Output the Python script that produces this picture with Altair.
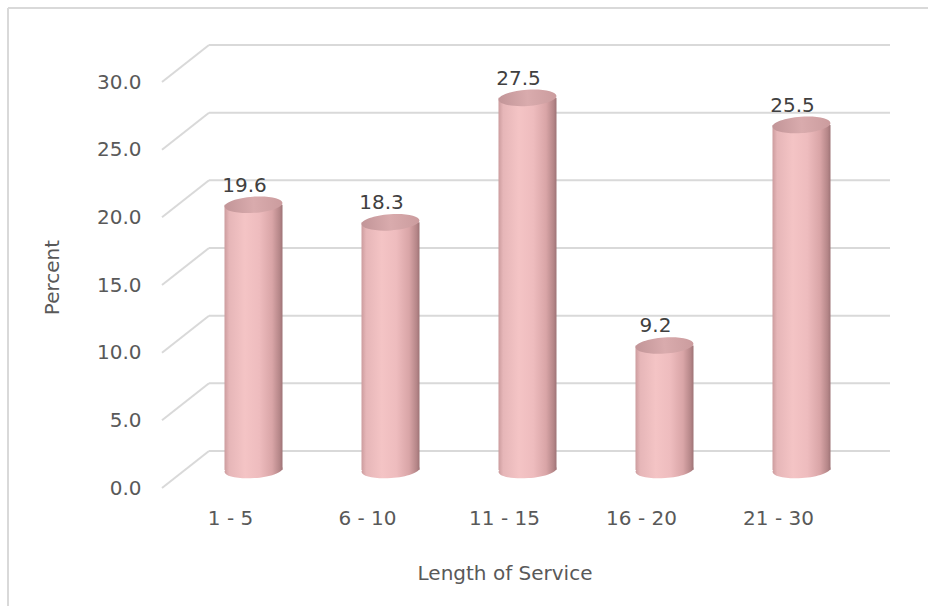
import altair as alt
import pandas as pd

# Share of staff by length of service (years)
categories = ["1 - 5", "6 - 10", "11 - 15", "16 - 20", "21 - 30"]
percent = [19.6, 18.3, 27.5, 9.2, 25.5]
grid_values = [0, 5, 10, 15, 20, 25, 30]

FONT = "DejaVu Sans"
TEXT = "#595959"
GRID = "#d9d9d9"

W, H = 685, 406
DEPTH_X, DEPTH_Y = 47, -37      # offset from front edge to back wall
CYL_X, CYL_Y = 23, -18          # cylinders sit halfway into the depth
CYL_W = 58

bars = pd.DataFrame({"cat": categories, "pct": percent, "zero": [0] * len(categories)})
grid = pd.DataFrame({"v": grid_values})
one = pd.DataFrame({"k": [0]})

x_scale = alt.Scale(domain=categories, paddingInner=0, paddingOuter=0)
y_scale = alt.Scale(domain=[0, 30], nice=False)

body_fill = alt.Gradient(
    gradient="linear", x1=0, x2=1, y1=0, y2=0,
    stops=[
        alt.GradientStop(color="#cc9c9e", offset=0),
        alt.GradientStop(color="#e6b6b8", offset=0.08),
        alt.GradientStop(color="#f4c4c5", offset=0.35),
        alt.GradientStop(color="#eebcbe", offset=0.6),
        alt.GradientStop(color="#d9a5a7", offset=0.82),
        alt.GradientStop(color="#b58688", offset=0.95),
        alt.GradientStop(color="#9e7376", offset=1),
    ],
)
top_fill = alt.Gradient(
    gradient="linear", x1=0, x2=1, y1=0, y2=0,
    stops=[
        alt.GradientStop(color="#c29598", offset=0),
        alt.GradientStop(color="#d9abad", offset=0.5),
        alt.GradientStop(color="#cb9c9e", offset=1),
    ],
)
ellipse = "M-1,0 A1,0.28 0 1,0 1,0 A1,0.28 0 1,0 -1,0 Z"

# frame around the chart area
frame_left = alt.Chart(one).mark_rule(color=GRID, strokeWidth=2).encode(
    x=alt.value(-154), y=alt.value(-74), y2=alt.value(H + 118)
)
frame_top = alt.Chart(one).mark_rule(color=GRID, strokeWidth=2).encode(
    y=alt.value(-74), x=alt.value(-154), x2=alt.value(W + 81)
)

# perspective gridlines: short diagonal from the front edge, then the back wall
grid_diag = alt.Chart(grid).mark_rule(color=GRID, strokeWidth=2, y2Offset=DEPTH_Y).encode(
    x=alt.value(0),
    x2=alt.value(DEPTH_X),
    y=alt.Y(
        "v:Q", scale=y_scale,
        axis=alt.Axis(
            values=grid_values, format=".1f", grid=False, ticks=False, domain=False,
            labelFont=FONT, labelFontSize=20, labelColor=TEXT, labelPadding=21,
            title="Percent", titleFont=FONT, titleFontSize=20, titleFontWeight="normal",
            titleColor=TEXT, titleX=-110, titleY=195, titleAlign="center",
            titleBaseline="middle",
        ),
    ),
    y2="v:Q",
)
grid_back = alt.Chart(grid).mark_rule(color=GRID, strokeWidth=2, yOffset=DEPTH_Y).encode(
    x=alt.value(DEPTH_X), x2=alt.value(W + 43), y=alt.Y("v:Q", scale=y_scale)
)

x_enc = alt.X(
    "cat:N", scale=x_scale, sort=categories,
    axis=alt.Axis(
        labelAngle=0, ticks=False, domain=False, grid=False,
        labelFont=FONT, labelFontSize=20, labelColor=TEXT, labelPadding=20,
        title="Length of Service", titleFont=FONT, titleFontSize=20,
        titleFontWeight="normal", titleColor=TEXT, titleY=85, titleBaseline="middle",
    ),
)

# cylinder: rounded bottom, shaded body, elliptical lid
bottom_cap = alt.Chart(bars).mark_point(
    shape=ellipse, filled=True, fill=body_fill, size=CYL_W * CYL_W, opacity=1,
    strokeWidth=0, xOffset=CYL_X, yOffset=CYL_Y, angle=356,
).encode(x=x_enc, y=alt.Y("zero:Q", scale=y_scale))

body = alt.Chart(bars).mark_bar(
    fill=body_fill, size=CYL_W, xOffset=CYL_X, yOffset=CYL_Y, y2Offset=CYL_Y,
).encode(x=x_enc, y=alt.Y("pct:Q", scale=y_scale), y2=alt.Y2("zero:Q"))

top_cap = alt.Chart(bars).mark_point(
    shape=ellipse, filled=True, fill=top_fill, size=CYL_W * CYL_W, opacity=1,
    strokeWidth=0, xOffset=CYL_X, yOffset=CYL_Y, angle=356,
).encode(x=x_enc, y=alt.Y("pct:Q", scale=y_scale))

labels = alt.Chart(bars).mark_text(
    font=FONT, fontSize=20, color="#404040", baseline="middle",
    xOffset=CYL_X - 9, yOffset=CYL_Y - 19,
).encode(x=x_enc, y=alt.Y("pct:Q", scale=y_scale), text=alt.Text("pct:Q", format=".1f"))

chart = (
    alt.layer(frame_left, frame_top, grid_diag, grid_back, bottom_cap, body, top_cap, labels)
    .properties(
        width=W, height=H,
        autosize=alt.AutoSizeParams(type="none"),
        padding={"left": 162, "top": 82, "right": 81, "bottom": 118},
        background="white",
    )
    .configure_view(strokeWidth=0)
)

chart.save("out.html", embed_options={"renderer": "svg", "actions": False})
